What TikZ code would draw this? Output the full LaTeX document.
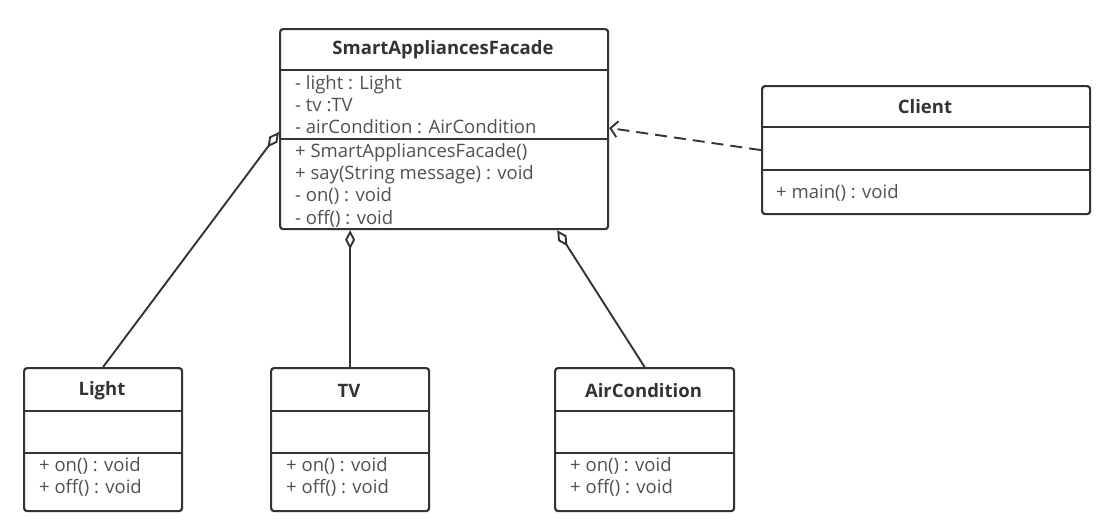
\documentclass[tikz,border=0pt]{standalone}
\usepackage{fontspec}
\setmainfont{Open Sans}
\usetikzlibrary{positioning,arrows.meta}
\definecolor{linegray}{HTML}{333333}
\definecolor{textgray}{HTML}{505050}
\begin{document}
\begin{tikzpicture}[
    x=1pt, y=-1pt,
    font=\fontsize{18.5}{22}\selectfont,
    cls/.style = {
      draw = linegray,
      line width = 2.2pt,
      rounded corners = 3pt,
      anchor = north west,
      inner sep = 0pt
    },
    sep/.style = {draw = linegray, line width = 2.2pt},
    title/.style = {font=\fontsize{18.5}{22}\selectfont\bfseries, text=linegray, inner sep=0pt},
    member/.style = {anchor=west, text=textgray, inner sep=0pt, text height=13pt, text depth=5pt},
    aggr/.style = {draw=linegray, line width=1.9pt, -{Diamond[length=19pt, width=10pt, fill=white]}},
    dep/.style = {draw=linegray, line width=1.9pt, dash pattern=on 12pt off 7pt, -{Straight Barb[length=7pt, width=16pt]}}
  ]
  \useasboundingbox (0,0) rectangle (1103,522);

  % facade
  \node[member] (facade-a1) at (295,85) {- light : Light};
  \node[member] (facade-a2) at (295,107) {- tv :TV};
  \node[member] (facade-a3) at (295,129) {- airCondition : AirCondition};
  \node[member] (facade-m1) at (295,153) {+ SmartAppliancesFacade()};
  \node[member] (facade-m2) at (295,175) {+ say(String message) : void};
  \node[member] (facade-m3) at (295,197) {- on() : void};
  \node[member] (facade-m4) at (295,220) {- off() : void};
  \node[cls, minimum width=328pt, minimum height=200pt] (facade) at (279,28) {};
  \node[title] (facade-title) at (443,50) {SmartAppliancesFacade};
  \draw[sep] ([yshift=-42pt]facade.north west) -- ([yshift=-42pt]facade.north east);
  \draw[sep] ([yshift=-111pt]facade.north west) -- ([yshift=-111pt]facade.north east);

  % client
  \node[cls, minimum width=328pt, minimum height=128pt] (client) at (761,85) {};
  \node[title] (client-title) at (925,107) {Client};
  \node[member] (client-m1) at (776,194) {+ main() : void};
  \draw[sep] ([yshift=-42pt]client.north west) -- ([yshift=-42pt]client.north east);
  \draw[sep] ([yshift=-85pt]client.north west) -- ([yshift=-85pt]client.north east);

  % appliances
  \foreach \n/\x/\w/\t in {light/23/158/Light, tv/270/158/TV, air/554/179/AirCondition} {
    \node[cls, minimum width=\w pt, minimum height=143pt] (\n) at (\x,367) {};
    \node[title] (\n-title) at (\x+\w/2,391) {\t};
    \node[member] (\n-m1) at (\x+16,467) {+ on() : void};
    \node[member] (\n-m2) at (\x+16,489) {+ off() : void};
    \draw[sep] ([yshift=-44pt]\n.north west) -- ([yshift=-44pt]\n.north east);
    \draw[sep] ([yshift=-86pt]\n.north west) -- ([yshift=-86pt]\n.north east);
  }

  \draw[aggr] (light.north) -- ([yshift=-104pt]facade.north west);
  \draw[aggr] (tv.north) -- (tv.north |- facade.south);
  \draw[aggr] (air.north) -- ([xshift=-52pt]facade.south east);
  \draw[dep] (client.west) -- ([yshift=-100pt]facade.north east);
\end{tikzpicture}
\end{document}
